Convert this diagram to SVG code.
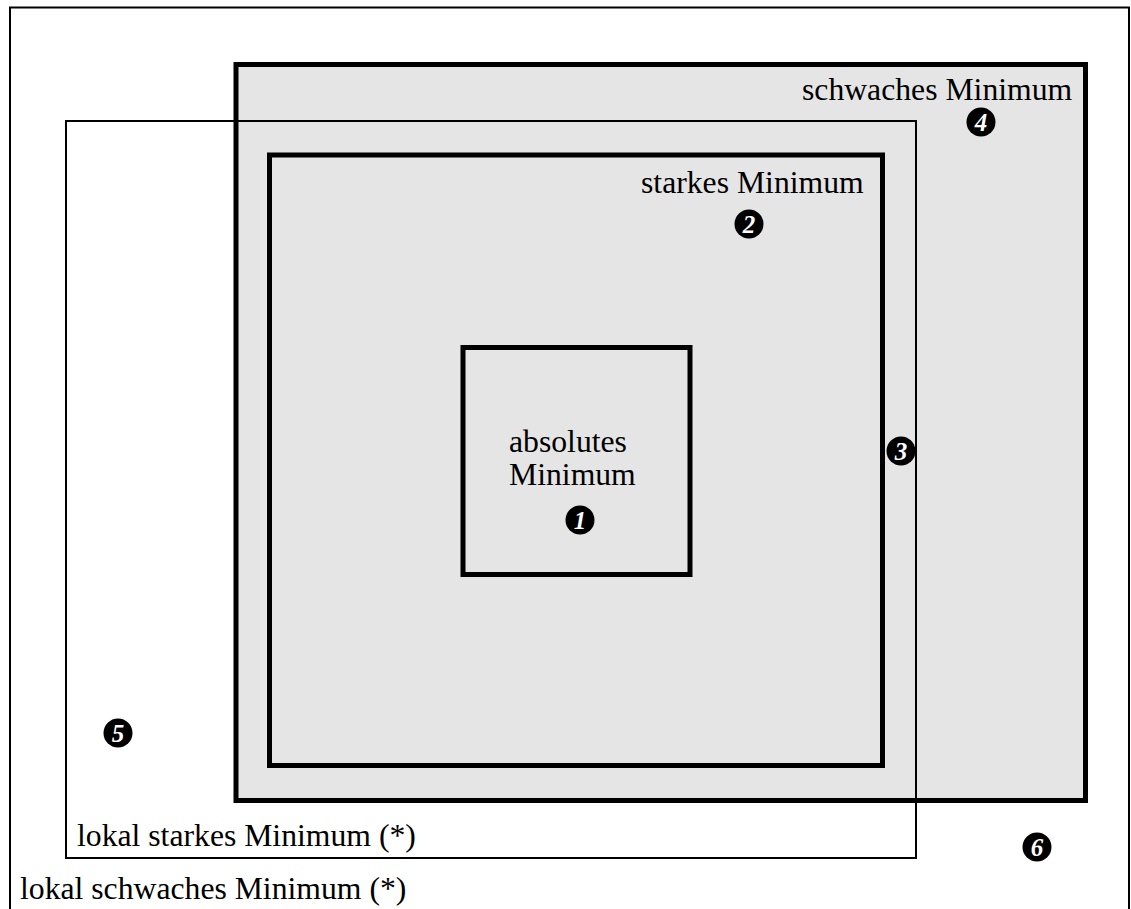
<svg xmlns="http://www.w3.org/2000/svg" width="1131" height="909" viewBox="0 0 1131 909">
<style>
.lbl{font-family:"Liberation Serif","Times New Roman",serif;font-size:31.7px;fill:#000}
.num{font-family:"Liberation Serif","Times New Roman",serif;font-size:25px;font-style:italic;font-weight:bold;fill:#fff;text-anchor:middle}
.thick{fill:#e5e5e5;stroke:#000;stroke-width:5}
.thin{fill:none;stroke:#000;stroke-width:2}
</style>
<rect width="1131" height="909" fill="#fff"/>
<g id="frame"><rect x="10" y="7.5" width="1119" height="910" class="thin"/></g>
<g id="schwaches"><rect x="236" y="64.5" width="849.5" height="736" class="thick"/>
<text class="lbl" x="802" y="100">schwaches Minimum</text></g>
<g id="starkes"><rect x="269.5" y="155" width="613" height="610.5" class="thick"/>
<text class="lbl" x="641" y="193">starkes Minimum</text></g>
<g id="lokal-starkes"><rect x="66" y="121" width="850" height="737" class="thin"/>
<text class="lbl" x="77" y="846">lokal starkes Minimum (*)</text></g>
<g id="absolutes"><rect x="463" y="347.5" width="227" height="227" class="thick"/>
<text class="lbl" x="509" y="452">absolutes</text>
<text class="lbl" x="509" y="485">Minimum</text></g>
<g id="lokal-schwaches"><text class="lbl" x="20" y="899">lokal schwaches Minimum (*)</text></g>
<g id="markers">
<g id="m1"><circle cx="580" cy="520" r="14.5"/><text class="num" x="580" y="529">1</text></g>
<g id="m2"><circle cx="749" cy="224" r="14.5"/><text class="num" x="749" y="233">2</text></g>
<g id="m3"><circle cx="901" cy="451" r="14.5"/><text class="num" x="901" y="460">3</text></g>
<g id="m4"><circle cx="981" cy="122" r="14.5"/><text class="num" x="981" y="131">4</text></g>
<g id="m5"><circle cx="118" cy="733" r="14.5"/><text class="num" x="118" y="742">5</text></g>
<g id="m6"><circle cx="1037" cy="847" r="14.5"/><text class="num" x="1037" y="856">6</text></g>
</g>
</svg>
